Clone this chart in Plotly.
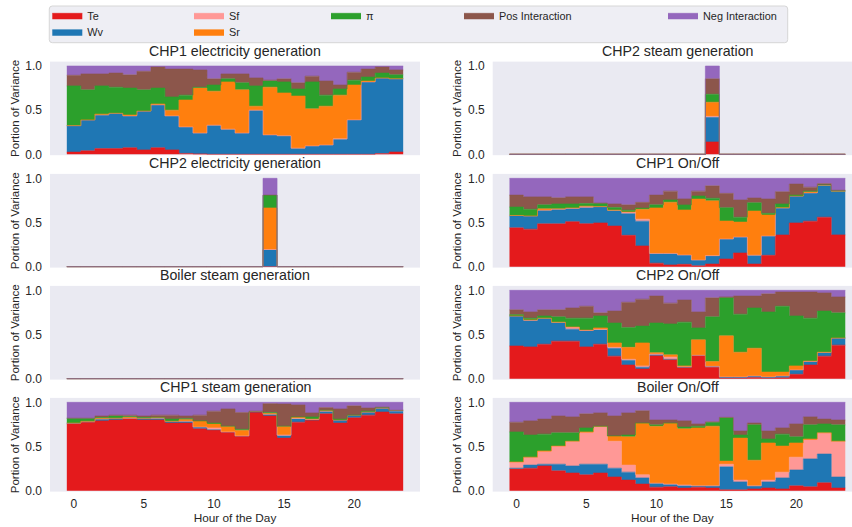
import numpy as np
import plotly.graph_objects as go

# ---------------- data ----------------
hours = list(range(24))
x_ticks = [0, 5, 10, 15, 20]
y_ticks = [0.0, 0.5, 1.0]

series_names = ["Te", "Wv", "Sf", "Sr", "π", "Pos Interaction", "Neg Interaction"]
series_colors = ["#e41a1c", "#1f77b4", "#ff9896", "#ff7f0e", "#2ca02c", "#8c564b", "#9467bd"]

# CHP1 electricity generation
chp1_elec_te = [0.025, 0.04, 0.065, 0.065, 0.075, 0.05, 0.075, 0.05, 0.01, 0.005, 0, 0, 0, 0, 0, 0, 0, 0, 0, 0, 0, 0, 0.008, 0.026]
chp1_elec_wv = [0.30, 0.35, 0.38, 0.40, 0.36, 0.44, 0.485, 0.385, 0.30, 0.235, 0.33, 0.285, 0.24, 0.50, 0.22, 0.21, 0.07, 0.095, 0.105, 0.17, 0.39, 0.82, 0.857, 0.83]
chp1_elec_sf = [0, 0, 0, 0, 0, 0, 0, 0, 0, 0, 0, 0, 0, 0, 0, 0, 0, 0, 0, 0.005, 0, 0, 0, 0]
chp1_elec_sr = [0, 0, 0.01, 0, 0.01, 0, 0.01, 0.065, 0.305, 0.51, 0.385, 0.535, 0.49, 0.045, 0.54, 0.485, 0.59, 0.42, 0.44, 0.495, 0.395, 0.01, 0, 0]
chp1_elec_pi = [0.45, 0.34, 0.32, 0.295, 0.305, 0.24, 0.18, 0.15, 0.055, 0.01, 0.07, 0.035, 0.08, 0.23, 0.07, 0.125, 0.08, 0.305, 0.125, 0.07, 0.055, 0.045, 0.055, 0.045]
chp1_elec_pos = [0.12, 0.18, 0.135, 0.16, 0.15, 0.21, 0.24, 0.315, 0.295, 0.195, 0.07, 0.055, 0.10, 0.09, 0.01, 0.035, 0.07, 0.065, 0.16, 0.045, 0.09, 0.09, 0.07, 0.055]
chp1_elec_neg = [0.105, 0.09, 0.09, 0.08, 0.10, 0.06, 0.01, 0.035, 0.035, 0.045, 0.145, 0.09, 0.09, 0.135, 0.16, 0.145, 0.19, 0.115, 0.17, 0.215, 0.07, 0.035, 0.01, 0.044]

# CHP2 electricity generation
chp2_elec_te = [0, 0, 0, 0, 0, 0, 0, 0, 0, 0, 0, 0, 0, 0, 0, 0, 0, 0, 0, 0, 0, 0, 0, 0]
chp2_elec_wv = [0, 0, 0, 0, 0, 0, 0, 0, 0, 0, 0, 0, 0, 0, 0.19, 0, 0, 0, 0, 0, 0, 0, 0, 0]
chp2_elec_sf = [0, 0, 0, 0, 0, 0, 0, 0, 0, 0, 0, 0, 0, 0, 0.005, 0, 0, 0, 0, 0, 0, 0, 0, 0]
chp2_elec_sr = [0, 0, 0, 0, 0, 0, 0, 0, 0, 0, 0, 0, 0, 0, 0.47, 0, 0, 0, 0, 0, 0, 0, 0, 0]
chp2_elec_pi = [0, 0, 0, 0, 0, 0, 0, 0, 0, 0, 0, 0, 0, 0, 0.145, 0, 0, 0, 0, 0, 0, 0, 0, 0]
chp2_elec_pos = [0, 0, 0, 0, 0, 0, 0, 0, 0, 0, 0, 0, 0, 0, 0, 0, 0, 0, 0, 0, 0, 0, 0, 0]
chp2_elec_neg = [0, 0, 0, 0, 0, 0, 0, 0, 0, 0, 0, 0, 0, 0, 0.19, 0, 0, 0, 0, 0, 0, 0, 0, 0]

# Boiler steam generation
boiler_steam_te = [0, 0, 0, 0, 0, 0, 0, 0, 0, 0, 0, 0, 0, 0, 0, 0, 0, 0, 0, 0, 0, 0, 0, 0]
boiler_steam_wv = [0, 0, 0, 0, 0, 0, 0, 0, 0, 0, 0, 0, 0, 0, 0, 0, 0, 0, 0, 0, 0, 0, 0, 0]
boiler_steam_sf = [0, 0, 0, 0, 0, 0, 0, 0, 0, 0, 0, 0, 0, 0, 0, 0, 0, 0, 0, 0, 0, 0, 0, 0]
boiler_steam_sr = [0, 0, 0, 0, 0, 0, 0, 0, 0, 0, 0, 0, 0, 0, 0, 0, 0, 0, 0, 0, 0, 0, 0, 0]
boiler_steam_pi = [0, 0, 0, 0, 0, 0, 0, 0, 0, 0, 0, 0, 0, 0, 0, 0, 0, 0, 0, 0, 0, 0, 0, 0]
boiler_steam_pos = [0, 0, 0, 0, 0, 0, 0, 0, 0, 0, 0, 0, 0, 0, 0, 0, 0, 0, 0, 0, 0, 0, 0, 0]
boiler_steam_neg = [0, 0, 0, 0, 0, 0, 0, 0, 0, 0, 0, 0, 0, 0, 0, 0, 0, 0, 0, 0, 0, 0, 0, 0]

# CHP1 steam generation
chp1_steam_te = [0.755, 0.775, 0.79, 0.80, 0.82, 0.80, 0.80, 0.765, 0.765, 0.70, 0.69, 0.665, 0.62, 0.89, 0.845, 0.595, 0.775, 0.80, 0.87, 0.765, 0.825, 0.855, 0.89, 0.87]
chp1_steam_wv = [0.01, 0.01, 0.02, 0.02, 0, 0.02, 0.02, 0.02, 0.02, 0.02, 0, 0, 0, 0, 0.02, 0.025, 0.035, 0, 0.03, 0.035, 0.03, 0.035, 0.045, 0.03]
chp1_steam_sf = [0, 0, 0, 0, 0, 0, 0, 0, 0, 0, 0.02, 0, 0, 0.01, 0, 0.01, 0.01, 0.01, 0, 0, 0, 0, 0, 0.01]
chp1_steam_sr = [0, 0, 0.01, 0, 0.01, 0, 0.01, 0, 0.02, 0.07, 0.045, 0.065, 0.065, 0, 0.01, 0.10, 0.015, 0, 0.01, 0, 0, 0, 0, 0]
chp1_steam_pi = [0.055, 0.035, 0.01, 0.025, 0.01, 0.01, 0, 0.025, 0.01, 0, 0.01, 0, 0.01, 0, 0.01, 0, 0, 0.025, 0, 0.01, 0, 0.01, 0.01, 0]
chp1_steam_pos = [0, 0, 0.015, 0.01, 0.015, 0.015, 0.025, 0.045, 0.03, 0.065, 0.135, 0.195, 0.19, 0, 0.10, 0.25, 0.135, 0.045, 0.03, 0.115, 0.105, 0.035, 0, 0]
chp1_steam_neg = [0.18, 0.18, 0.155, 0.145, 0.145, 0.155, 0.145, 0.145, 0.155, 0.145, 0.10, 0.075, 0.115, 0.10, 0.015, 0.02, 0.03, 0.12, 0.06, 0.075, 0.04, 0.065, 0.055, 0.09]

# CHP2 steam generation
chp2_steam_te = [0, 0, 0, 0, 0, 0, 0, 0, 0, 0, 0, 0, 0, 0, 0.14, 0, 0, 0, 0, 0, 0, 0, 0, 0]
chp2_steam_wv = [0, 0, 0, 0, 0, 0, 0, 0, 0, 0, 0, 0, 0, 0, 0.28, 0, 0, 0, 0, 0, 0, 0, 0, 0]
chp2_steam_sf = [0, 0, 0, 0, 0, 0, 0, 0, 0, 0, 0, 0, 0, 0, 0.01, 0, 0, 0, 0, 0, 0, 0, 0, 0]
chp2_steam_sr = [0, 0, 0, 0, 0, 0, 0, 0, 0, 0, 0, 0, 0, 0, 0.16, 0, 0, 0, 0, 0, 0, 0, 0, 0]
chp2_steam_pi = [0, 0, 0, 0, 0, 0, 0, 0, 0, 0, 0, 0, 0, 0, 0.09, 0, 0, 0, 0, 0, 0, 0, 0, 0]
chp2_steam_pos = [0, 0, 0, 0, 0, 0, 0, 0, 0, 0, 0, 0, 0, 0, 0.175, 0, 0, 0, 0, 0, 0, 0, 0, 0]
chp2_steam_neg = [0, 0, 0, 0, 0, 0, 0, 0, 0, 0, 0, 0, 0, 0, 0.145, 0, 0, 0, 0, 0, 0, 0, 0, 0]

# CHP1 On/Off
chp1_onoff_te = [0.44, 0.425, 0.485, 0.485, 0.51, 0.487, 0.495, 0.46, 0.355, 0.235, 0.04, 0.02, 0.027, 0.01, 0.03, 0.087, 0.155, 0.03, 0.129, 0.359, 0.495, 0.515, 0.56, 0.36]
chp1_onoff_wv = [0.135, 0.15, 0.155, 0.16, 0.145, 0.178, 0.18, 0.17, 0.245, 0.28, 0.11, 0.13, 0.105, 0.065, 0.09, 0.226, 0.18, 0.10, 0.218, 0.301, 0.305, 0.32, 0.355, 0.495]
chp1_onoff_sf = [0.005, 0, 0, 0.01, 0.01, 0.02, 0.005, 0.01, 0.02, 0.023, 0, 0, 0, 0, 0.005, 0, 0, 0, 0, 0.008, 0, 0, 0.01, 0]
chp1_onoff_sr = [0, 0, 0.015, 0, 0, 0, 0, 0, 0, 0.113, 0.515, 0.58, 0.51, 0.69, 0.62, 0.204, 0.17, 0.50, 0.238, 0, 0, 0.01, 0, 0]
chp1_onoff_pi = [0.095, 0.075, 0.045, 0.055, 0.045, 0.03, 0.035, 0.03, 0.02, 0.012, 0.035, 0.025, 0.057, 0.035, 0.03, 0.151, 0.055, 0.094, 0.019, 0.042, 0.01, 0.01, 0, 0.005]
chp1_onoff_pos = [0.135, 0.14, 0.09, 0.07, 0.08, 0.075, 0.005, 0.04, 0.06, 0.065, 0.11, 0.10, 0.068, 0.055, 0.14, 0.162, 0.195, 0.053, 0.162, 0.139, 0.125, 0.045, 0.015, 0.005]
chp1_onoff_neg = [0.19, 0.21, 0.21, 0.22, 0.21, 0.21, 0.28, 0.29, 0.30, 0.272, 0.19, 0.145, 0.233, 0.145, 0.085, 0.17, 0.245, 0.223, 0.234, 0.151, 0.065, 0.10, 0.06, 0.135]

# CHP2 On/Off
chp2_onoff_te = [0.37, 0.36, 0.39, 0.425, 0.425, 0.36, 0.39, 0.255, 0.155, 0.11, 0.26, 0.22, 0.125, 0.265, 0.13, 0.005, 0.005, 0.015, 0.005, 0.01, 0.05, 0.155, 0.255, 0.38]
chp2_onoff_wv = [0.34, 0.295, 0.295, 0.205, 0.135, 0.18, 0.16, 0.09, 0.055, 0.02, 0.01, 0, 0.01, 0, 0.01, 0.015, 0.015, 0.015, 0.015, 0.02, 0.05, 0.035, 0.035, 0.08]
chp2_onoff_sf = [0, 0.01, 0, 0.01, 0.025, 0.01, 0.01, 0.01, 0.01, 0.015, 0.01, 0.025, 0, 0, 0, 0, 0, 0, 0, 0, 0, 0.01, 0.01, 0]
chp2_onoff_sr = [0, 0, 0, 0, 0, 0, 0.015, 0.05, 0.135, 0.26, 0.015, 0.025, 0.01, 0.175, 0.055, 0.465, 0.28, 0.315, 0.055, 0.045, 0.045, 0, 0, 0]
chp2_onoff_pi = [0.015, 0.02, 0.025, 0.06, 0.10, 0.135, 0.135, 0.225, 0.225, 0.19, 0.335, 0.35, 0.495, 0.135, 0.505, 0.43, 0.43, 0.455, 0.68, 0.745, 0.565, 0.485, 0.465, 0.285]
chp2_onoff_pos = [0.055, 0.07, 0.07, 0.08, 0.115, 0.135, 0.035, 0.135, 0.285, 0.305, 0.305, 0.235, 0.25, 0.18, 0.215, 0.01, 0.205, 0.135, 0.205, 0.16, 0.27, 0.295, 0.205, 0.18]
chp2_onoff_neg = [0.22, 0.245, 0.22, 0.22, 0.20, 0.18, 0.255, 0.235, 0.135, 0.10, 0.065, 0.145, 0.11, 0.245, 0.085, 0.075, 0.065, 0.065, 0.04, 0.02, 0.02, 0.02, 0.03, 0.075]

# Boiler On/Off
boiler_onoff_te = [0.245, 0.255, 0.28, 0.225, 0.20, 0.18, 0.20, 0.155, 0.12, 0.075, 0.04, 0.045, 0.03, 0.04, 0.03, 0.01, 0.01, 0.02, 0.03, 0.02, 0.055, 0.045, 0.09, 0.03]
boiler_onoff_wv = [0.01, 0.035, 0.02, 0.075, 0.08, 0.12, 0.10, 0.10, 0.09, 0.07, 0.045, 0.025, 0.025, 0.015, 0.025, 0.26, 0.09, 0.035, 0.07, 0.125, 0.18, 0.315, 0.325, 0.125]
boiler_onoff_sf = [0.07, 0.09, 0.14, 0.205, 0.28, 0.355, 0.42, 0.305, 0.08, 0.035, 0, 0.005, 0.01, 0, 0, 0.03, 0.02, 0, 0.02, 0.065, 0.145, 0.215, 0.24, 0.405]
boiler_onoff_sr = [0, 0, 0.01, 0, 0, 0.01, 0.01, 0.06, 0.32, 0.585, 0.645, 0.69, 0.635, 0.655, 0.675, 0.035, 0.475, 0.29, 0.42, 0.295, 0.16, 0.01, 0, 0]
boiler_onoff_pi = [0.34, 0.25, 0.19, 0.15, 0.095, 0.045, 0, 0, 0.02, 0, 0.015, 0, 0.02, 0.02, 0.045, 0.49, 0.035, 0.40, 0.045, 0.135, 0.07, 0.16, 0.10, 0.185]
boiler_onoff_pos = [0.11, 0.16, 0.17, 0.19, 0.18, 0.16, 0.15, 0.225, 0.25, 0.14, 0.055, 0.035, 0.07, 0.025, 0.005, 0.005, 0.045, 0.02, 0.09, 0.07, 0.145, 0.09, 0.055, 0.055]
boiler_onoff_neg = [0.225, 0.21, 0.19, 0.155, 0.165, 0.13, 0.12, 0.155, 0.12, 0.095, 0.20, 0.20, 0.21, 0.245, 0.22, 0.17, 0.325, 0.235, 0.325, 0.29, 0.245, 0.165, 0.19, 0.20]

# ---------------- layout helpers ----------------
W, H = 852, 527
FONT = "Liberation Sans, Arial, sans-serif"
TXT = "#262626"

def fx(p):
    return p / W

def fy(p):
    return 1 - p / H

# (title, column, row, series)
panels = [
    ("CHP1 electricity generation", 0, 0, [chp1_elec_te, chp1_elec_wv, chp1_elec_sf, chp1_elec_sr, chp1_elec_pi, chp1_elec_pos, chp1_elec_neg]),
    ("CHP2 electricity generation", 0, 1, [chp2_elec_te, chp2_elec_wv, chp2_elec_sf, chp2_elec_sr, chp2_elec_pi, chp2_elec_pos, chp2_elec_neg]),
    ("Boiler steam generation", 0, 2, [boiler_steam_te, boiler_steam_wv, boiler_steam_sf, boiler_steam_sr, boiler_steam_pi, boiler_steam_pos, boiler_steam_neg]),
    ("CHP1 steam generation", 0, 3, [chp1_steam_te, chp1_steam_wv, chp1_steam_sf, chp1_steam_sr, chp1_steam_pi, chp1_steam_pos, chp1_steam_neg]),
    ("CHP2 steam generation", 1, 0, [chp2_steam_te, chp2_steam_wv, chp2_steam_sf, chp2_steam_sr, chp2_steam_pi, chp2_steam_pos, chp2_steam_neg]),
    ("CHP1 On/Off", 1, 1, [chp1_onoff_te, chp1_onoff_wv, chp1_onoff_sf, chp1_onoff_sr, chp1_onoff_pi, chp1_onoff_pos, chp1_onoff_neg]),
    ("CHP2 On/Off", 1, 2, [chp2_onoff_te, chp2_onoff_wv, chp2_onoff_sf, chp2_onoff_sr, chp2_onoff_pi, chp2_onoff_pos, chp2_onoff_neg]),
    ("Boiler On/Off", 1, 3, [boiler_onoff_te, boiler_onoff_wv, boiler_onoff_sf, boiler_onoff_sr, boiler_onoff_pi, boiler_onoff_pos, boiler_onoff_neg]),
]

# pixel geometry (window coordinates)
row_top = [61.6, 173.9, 285.9, 397.9]
row_bot = [155.2, 267.6, 379.6, 491.6]
col_left = [50.0, 492.7]
col_right = [420.0, 852.0]
col_center = [235.0, 677.7]
col_range = [[-1.7, 24.7], [-1.7, 23.98]]

legend_ids = ["legend", "legend6", "legend2", "legend7", "legend3", "legend4", "legend5"]
legend_pos = {
    "legend": (52.3, 15.3), "legend2": (194.0, 15.3), "legend3": (331.0, 15.3),
    "legend4": (464.0, 15.3), "legend5": (668.0, 15.3),
    "legend6": (52.3, 31.7), "legend7": (194.0, 31.7),
}

hours_arr = np.array(hours, dtype=float)
x_edges = np.append(hours_arr - 0.5, hours_arr[-1] + 0.5)

fig = go.Figure()
layout = {}
annotations = []

for k, (title, col, row, series) in enumerate(panels, start=1):
    xref = "x" if k == 1 else f"x{k}"
    yref = "y" if k == 1 else f"y{k}"
    for j, vals in enumerate(series):
        yv = list(vals) + [vals[-1]]
        fig.add_trace(go.Scatter(
            x=x_edges, y=yv, name=series_names[j], mode="lines",
            line=dict(color=series_colors[j], width=0.6, shape="hv"),
            fillcolor=series_colors[j], stackgroup=f"s{k}",
            xaxis=xref, yaxis=yref, showlegend=(k == 1),
            legend=legend_ids[j], hoverinfo="skip",
        ))
    bottom = (row == 3)
    layout["xaxis" if k == 1 else f"xaxis{k}"] = dict(
        domain=[fx(col_left[col]), min(1.0, fx(col_right[col]))], range=col_range[col],
        anchor=yref, showgrid=False, zeroline=False, showline=False,
        tickvals=x_ticks, showticklabels=bottom, ticks="", ticklabelstandoff=3,
        tickfont=dict(size=12, color=TXT, family=FONT),
        title=dict(text="Hour of the Day" if bottom else None, standoff=0,
                   font=dict(size=11.8, color=TXT, family=FONT)),
        automargin=False, fixedrange=True,
    )
    layout["yaxis" if k == 1 else f"yaxis{k}"] = dict(
        domain=[fy(row_bot[row]), fy(row_top[row])], range=[-0.01, 1.05],
        anchor=xref, showgrid=False, zeroline=False, showline=False,
        tickvals=y_ticks, tickformat=".1f", ticks="", ticklabelstandoff=7,
        tickfont=dict(size=12, color=TXT, family=FONT),
        title=dict(text="Portion of Variance", standoff=3,
                   font=dict(size=11.5, color=TXT, family=FONT)),
        automargin=False, fixedrange=True,
    )
    annotations.append(dict(
        text=title, x=fx(col_center[col]), y=fy(row_top[row]),
        xref="paper", yref="paper", xanchor="center", yanchor="bottom",
        yshift=1, showarrow=False, font=dict(size=14.2, color=TXT, family=FONT),
    ))

for lid, (ix, iy) in legend_pos.items():
    layout[lid] = dict(
        x=fx(ix - 5), y=fy(iy), xanchor="left", yanchor="middle",
        bgcolor="rgba(0,0,0,0)", borderwidth=0, orientation="v",
        font=dict(size=10.9, color=TXT, family=FONT), itemwidth=30,
    )

# legend frame (rounded rectangle)
bx0, bx1, by0, by1, r = 49.3, 787.7, 6.0, 42.7, 3.0
def P(x, y):
    return f"{fx(x):.5f},{fy(y):.5f}"
frame = (f"M{P(bx0 + r, by0)} L{P(bx1 - r, by0)} Q{P(bx1, by0)} {P(bx1, by0 + r)} "
         f"L{P(bx1, by1 - r)} Q{P(bx1, by1)} {P(bx1 - r, by1)} L{P(bx0 + r, by1)} "
         f"Q{P(bx0, by1)} {P(bx0, by1 - r)} L{P(bx0, by0 + r)} Q{P(bx0, by0)} {P(bx0 + r, by0)} Z")

fig.update_layout(
    width=W, height=H, margin=dict(l=0, r=0, t=0, b=0),
    paper_bgcolor="white", plot_bgcolor="#eaeaf2",
    font=dict(family=FONT, color=TXT),
    showlegend=True, annotations=annotations,
    shapes=[dict(type="path", path=frame, xref="paper", yref="paper",
                 fillcolor="#eeeef4", line=dict(color="#d6d6d6", width=1), layer="below")],
    **layout,
)

# remove the browser's default 8px page margin so the figure fills the window exactly
fig.write_html("out.html", config={"displayModeBar": False},
               post_script="document.body.style.margin='0px';")
